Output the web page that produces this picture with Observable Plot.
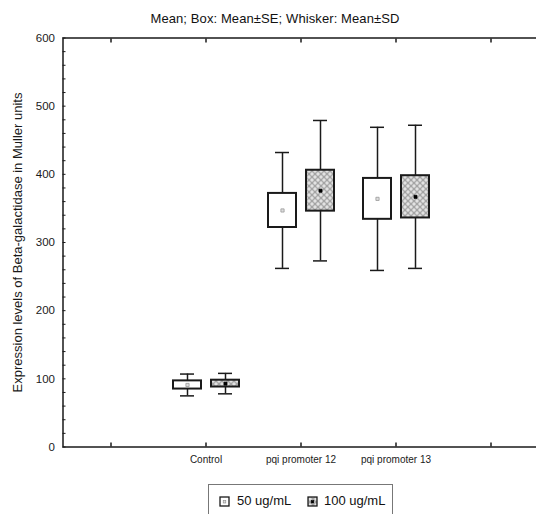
<!DOCTYPE html>
<html><head><meta charset="utf-8">
<script src="https://cdn.jsdelivr.net/npm/d3@7"></script>
<script src="https://cdn.jsdelivr.net/npm/@observablehq/plot@0.6"></script>
<style>
html,body{margin:0;padding:0;background:#fff;overflow:hidden;}
#wrap{position:relative;width:536px;height:514px;font-family:"Liberation Sans",Arial,sans-serif;color:#111;}
#chart{position:absolute;left:0;top:0;}
#title{position:absolute;top:11px;left:0;width:550px;text-align:center;font-size:13px;letter-spacing:0.1px;line-height:15px;white-space:nowrap;}
#legend{position:absolute;left:208px;top:484px;width:185px;height:40px;border:1px solid #777;box-sizing:border-box;}
.sw{position:absolute;top:11px;}
.lt{position:absolute;top:8px;font-size:13px;line-height:15px;white-space:nowrap;}
</style></head>
<body>
<div id="wrap">
  <div id="chart"></div>
  <div id="title"></div>
  <div id="legend"></div>
</div>
<script>
// ---- data ----
const categories = ["Control", "pqi promoter 12", "pqi promoter 13"];
const series = ["50 ug/mL", "100 ug/mL"];
const mean50 = [91, 347, 364];
const se50 = [6, 25, 30];
const sd50 = [16, 85, 105];
const mean100 = [93, 376, 367];
const se100 = [5, 30, 31];
const sd100 = [15, 103, 105];
const yTicks = [0, 100, 200, 300, 400, 500, 600];
const yMinorTicks = d3.range(0, 601, 20);
const titleText = "Mean; Box: Mean\u00b1SE; Whisker: Mean\u00b1SD";
const yLabel = "Expression levels of Beta-galactidase in Muller units";

// ---- tables built from the arrays ----
const r50 = categories.map((c, i) => ({cat: c, s: series[0], mean: mean50[i], se: se50[i], sd: sd50[i]}));
const r100 = categories.map((c, i) => ({cat: c, s: series[1], mean: mean100[i], se: se100[i], sd: sd100[i]}));
const pads = ["pad-left", "pad-right"];
const domain = [pads[0], ...categories, pads[1]];

const ink = "#1a1a1a";
const pat = "url(#chk)";

function seriesMarks(rows, o) {
  return [
    Plot.ruleX(rows, {x: "cat", y1: d => d.mean - d.sd, y2: d => d.mean + d.sd, dx: o.dx, stroke: ink, strokeWidth: 1.5}),
    Plot.tickY(rows, {x: "cat", y: d => d.mean - d.sd, insetLeft: o.capL, insetRight: o.capR, stroke: ink, strokeWidth: 1.5}),
    Plot.tickY(rows, {x: "cat", y: d => d.mean + d.sd, insetLeft: o.capL, insetRight: o.capR, stroke: ink, strokeWidth: 1.5}),
    Plot.barY(rows, {x: "cat", y1: d => d.mean - d.se, y2: d => d.mean + d.se, insetLeft: o.boxL, insetRight: o.boxR, fill: o.fill, stroke: ink, strokeWidth: 2}),
    Plot.dot(rows, {x: "cat", y: "mean", dx: o.dx, symbol: "square", r: o.r, fill: o.dotFill, stroke: o.dotStroke, strokeWidth: 0.8})
  ];
}

const svg = Plot.plot({
  width: 538,
  height: 475,
  marginLeft: 62.5,
  marginRight: 0.5,
  marginTop: 37.5,
  marginBottom: 28.5,
  style: {fontFamily: '"Liberation Sans", Arial, sans-serif', color: ink, maxWidth: "none", background: "transparent"},
  x: {type: "band", domain, padding: 0},
  y: {domain: [0, 600]},
  marks: [
    ...seriesMarks(r50, {dx: -18.5, capL: 22, capR: 59, boxL: 15, boxR: 52, fill: "#fff", r: 1.8, dotFill: "#ddd", dotStroke: "#999"}),
    ...seriesMarks(r100, {dx: 19.5, capL: 60, capR: 21, boxL: 53, boxR: 14, fill: pat, r: 1.7, dotFill: "#000", dotStroke: "#000"}),
    Plot.frame({stroke: ink, strokeWidth: 1.5}),
    Plot.axisY({ticks: yMinorTicks, tickSize: 3, dx: 3, fill: "none", label: null, stroke: ink}),
    Plot.axisY({ticks: yTicks, tickSize: 0, tickPadding: 8, fontSize: 11.5, label: null}),
    Plot.axisX({anchor: "bottom", tickSize: 4, dy: -4, fill: "none", label: null, stroke: ink, strokeWidth: 1.5}),
    Plot.axisX({anchor: "top", tickSize: 4, dy: 4, fill: "none", label: null, stroke: ink, strokeWidth: 1.5}),
    Plot.axisX({anchor: "bottom", tickSize: 0, tickPadding: 9, fontSize: 10, label: null, tickFormat: d => categories.includes(d) ? d : ""}),
    Plot.text([yLabel], {text: d => d, frameAnchor: "left", textAnchor: "middle", rotate: -90, dx: -45.5, fontSize: 13, fill: ink})
  ]
});

const defs = d3.select(svg).insert("defs", ":first-child");
const p = defs.append("pattern").attr("id", "chk").attr("width", 6).attr("height", 6).attr("patternUnits", "userSpaceOnUse");
p.append("rect").attr("width", 6).attr("height", 6).attr("fill", "#a4a4a4");
[[0,0],[6,0],[0,6],[6,6],[3,3]].forEach(([cx, cy]) => p.append("circle").attr("cx", cx).attr("cy", cy).attr("r", 1.7).attr("fill", "#e2e2e2"));

document.getElementById("chart").appendChild(svg);
document.getElementById("title").textContent = titleText;

// legend
const legend = document.getElementById("legend");
const items = [
  {label: series[0], left: 10, textLeft: 28, fill: "#fff", dotFill: "#ddd", dotStroke: "#888"},
  {label: series[1], left: 98, textLeft: 115, fill: pat, dotFill: "#000", dotStroke: "#000"}
];
items.forEach(it => {
  const s = d3.create("svg").attr("class", "sw").attr("width", 11).attr("height", 11).style("left", it.left + "px");
  s.append("rect").attr("x", 1).attr("y", 1).attr("width", 9).attr("height", 9).attr("fill", it.fill).attr("stroke", ink).attr("stroke-width", 1.3);
  s.append("rect").attr("x", 4.2).attr("y", 4.6).attr("width", 2.6).attr("height", 2.4).attr("fill", it.dotFill).attr("stroke", it.dotStroke).attr("stroke-width", 0.6);
  legend.appendChild(s.node());
  const t = document.createElement("span");
  t.className = "lt";
  t.style.left = it.textLeft + "px";
  t.textContent = it.label;
  legend.appendChild(t);
});
</script>
</body></html>
